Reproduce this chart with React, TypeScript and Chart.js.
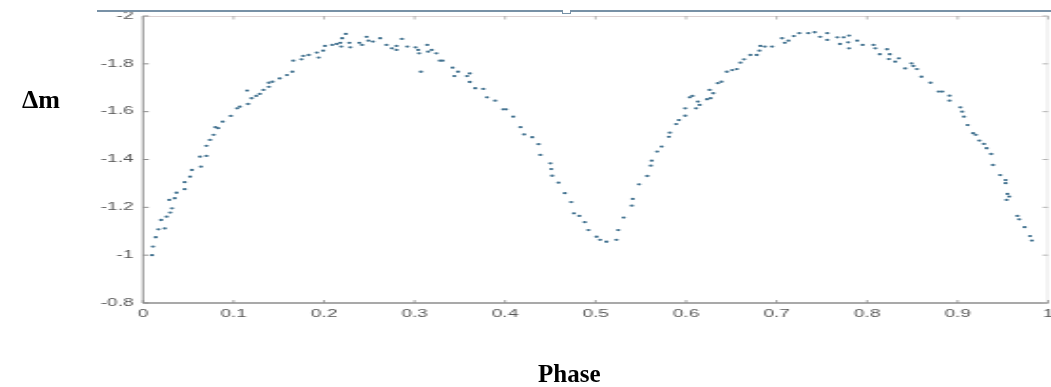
import React, { useEffect, useRef } from "react";
import { Chart, registerables } from "chart.js";

Chart.register(...registerables);

// Phase-folded light curve: phase vs differential magnitude
const phase: number[] = [
  0.010, 0.011, 0.014, 0.017, 0.024, 0.020, 0.026, 0.030, 0.032, 0.029,
  0.035, 0.037, 0.046, 0.046, 0.052, 0.054, 0.064, 0.063, 0.070, 0.070,
  0.074, 0.078, 0.080, 0.083, 0.088, 0.097, 0.104, 0.107, 0.116, 0.115,
  0.120, 0.125, 0.129, 0.133, 0.139, 0.139, 0.143, 0.151, 0.159, 0.165,
  0.166, 0.175, 0.177, 0.183, 0.194, 0.192, 0.199, 0.201, 0.209, 0.214,
  0.218, 0.219, 0.220, 0.224, 0.229, 0.228, 0.239, 0.242, 0.247, 0.249,
  0.254, 0.262, 0.269, 0.275, 0.280, 0.280, 0.286, 0.292, 0.301, 0.304,
  0.305, 0.307, 0.314, 0.315, 0.319, 0.324, 0.328, 0.331, 0.342, 0.348,
  0.344, 0.358, 0.361, 0.361, 0.367, 0.376, 0.380, 0.389, 0.398, 0.401,
  0.409, 0.417, 0.421, 0.430, 0.437, 0.439, 0.450, 0.451, 0.452, 0.459,
  0.466, 0.473, 0.476, 0.482, 0.488, 0.492, 0.501, 0.505, 0.512, 0.523,
  0.525, 0.531, 0.540, 0.541, 0.548, 0.557, 0.561, 0.562, 0.568, 0.573,
  0.581, 0.582, 0.589, 0.592, 0.599, 0.599, 0.604, 0.607, 0.611, 0.613,
  0.615, 0.623, 0.627, 0.626, 0.630, 0.635, 0.639, 0.645, 0.651, 0.656,
  0.660, 0.664, 0.671, 0.678, 0.681, 0.682, 0.687, 0.695, 0.706, 0.709,
  0.713, 0.719, 0.725, 0.735, 0.742, 0.748, 0.756, 0.756, 0.767, 0.774,
  0.770, 0.780, 0.779, 0.780, 0.789, 0.795, 0.807, 0.809, 0.814, 0.822,
  0.825, 0.824, 0.831, 0.835, 0.842, 0.849, 0.851, 0.855, 0.860, 0.870,
  0.879, 0.883, 0.891, 0.891, 0.903, 0.905, 0.907, 0.911, 0.917, 0.920,
  0.924, 0.929, 0.932, 0.937, 0.939, 0.947, 0.953, 0.953, 0.955, 0.957,
  0.954, 0.966, 0.968, 0.974, 0.980, 0.982,
];

const deltaMag: number[] = [
  -1.000, -1.036, -1.075, -1.108, -1.112, -1.147, -1.161, -1.178, -1.196, -1.231,
  -1.238, -1.261, -1.276, -1.305, -1.328, -1.356, -1.370, -1.412, -1.415, -1.457,
  -1.482, -1.503, -1.535, -1.531, -1.558, -1.582, -1.614, -1.621, -1.632, -1.688,
  -1.656, -1.666, -1.674, -1.691, -1.704, -1.721, -1.725, -1.739, -1.753, -1.767,
  -1.813, -1.819, -1.833, -1.837, -1.826, -1.847, -1.855, -1.875, -1.879, -1.883,
  -1.888, -1.872, -1.907, -1.925, -1.869, -1.888, -1.888, -1.879, -1.913, -1.897,
  -1.893, -1.907, -1.879, -1.865, -1.875, -1.858, -1.904, -1.872, -1.869, -1.858,
  -1.844, -1.767, -1.879, -1.851, -1.858, -1.844, -1.813, -1.813, -1.784, -1.767,
  -1.749, -1.749, -1.760, -1.724, -1.698, -1.695, -1.660, -1.646, -1.610, -1.610,
  -1.579, -1.535, -1.505, -1.493, -1.464, -1.419, -1.384, -1.360, -1.332, -1.303,
  -1.259, -1.222, -1.175, -1.164, -1.138, -1.105, -1.077, -1.064, -1.056, -1.064,
  -1.105, -1.157, -1.207, -1.235, -1.296, -1.331, -1.374, -1.395, -1.433, -1.454,
  -1.495, -1.512, -1.548, -1.565, -1.583, -1.614, -1.660, -1.666, -1.614, -1.642,
  -1.628, -1.652, -1.656, -1.691, -1.677, -1.719, -1.725, -1.767, -1.774, -1.778,
  -1.805, -1.819, -1.837, -1.837, -1.855, -1.875, -1.872, -1.872, -1.907, -1.888,
  -1.897, -1.916, -1.928, -1.928, -1.932, -1.913, -1.928, -1.900, -1.911, -1.911,
  -1.883, -1.918, -1.890, -1.865, -1.897, -1.879, -1.879, -1.865, -1.840, -1.861,
  -1.840, -1.820, -1.809, -1.823, -1.781, -1.802, -1.791, -1.778, -1.746, -1.721,
  -1.684, -1.684, -1.667, -1.646, -1.618, -1.600, -1.579, -1.544, -1.510, -1.503,
  -1.479, -1.465, -1.447, -1.423, -1.377, -1.335, -1.314, -1.301, -1.256, -1.245,
  -1.231, -1.164, -1.150, -1.117, -1.080, -1.061,
];

const xRange: [number, number] = [0, 1];
const yRange: [number, number] = [-2, -0.8];
const xStep = 0.1;
const yStep = 0.2;

const PAGE_W = 1051;
const PAGE_H = 387;
const CANVAS_W = 553; // drawn narrow, then stretched horizontally
const STRETCH = PAGE_W / CANVAS_W;

const fmt = (v: number | string) => String(parseFloat(Number(v).toFixed(1)));

// Box around the axes with inward tick marks on all four sides
const boxAxes = {
  id: "boxAxes",
  afterDraw(chart: any) {
    const { ctx, chartArea, scales } = chart;
    const { left, right, top, bottom } = chartArea;
    const xs = scales.x;
    const ys = scales.y;
    ctx.save();
    ctx.lineCap = "butt";

    // top and right edges (faint)
    ctx.lineWidth = 1;
    ctx.strokeStyle = "#ddd2d2";
    ctx.beginPath();
    ctx.moveTo(left, top + 0.5);
    ctx.lineTo(right, top + 0.5);
    ctx.stroke();
    ctx.strokeStyle = "#e6e6e6";
    ctx.beginPath();
    ctx.moveTo(right - 0.5, top);
    ctx.lineTo(right - 0.5, bottom);
    ctx.stroke();

    // left and bottom axes
    ctx.strokeStyle = "#8d8d8d";
    ctx.lineWidth = 1;
    ctx.beginPath();
    ctx.moveTo(left, top);
    ctx.lineTo(left, bottom);
    ctx.stroke();
    ctx.lineWidth = 1.5;
    ctx.beginPath();
    ctx.moveTo(left, bottom);
    ctx.lineTo(right, bottom);
    ctx.stroke();

    // x ticks
    ctx.lineWidth = 0.8;
    for (const t of xs.ticks) {
      const px = xs.getPixelForValue(t.value);
      ctx.strokeStyle = "#8d8d8d";
      ctx.beginPath();
      ctx.moveTo(px, bottom);
      ctx.lineTo(px, bottom - 3);
      ctx.stroke();
      ctx.strokeStyle = "#a6a6a6";
      ctx.beginPath();
      ctx.moveTo(px, top);
      ctx.lineTo(px, top + 3.5);
      ctx.stroke();
    }
    // y ticks
    ctx.lineWidth = 1;
    for (const t of ys.ticks) {
      const py = ys.getPixelForValue(t.value);
      ctx.strokeStyle = "#8d8d8d";
      ctx.beginPath();
      ctx.moveTo(left, py);
      ctx.lineTo(left + 3, py);
      ctx.stroke();
      ctx.strokeStyle = "#b4b4b4";
      ctx.beginPath();
      ctx.moveTo(right, py);
      ctx.lineTo(right - 3, py);
      ctx.stroke();
    }
    ctx.restore();
  },
};

function LightCurve() {
  const canvasRef = useRef<HTMLCanvasElement | null>(null);

  useEffect(() => {
    const canvas = canvasRef.current;
    if (!canvas) return;
    const points = phase.map((p, i) => ({ x: p, y: deltaMag[i] }));

    const chart = new Chart(canvas, {
      type: "scatter",
      data: {
        datasets: [
          {
            data: points,
            pointRadius: 1.15,
            pointHoverRadius: 1.15,
            pointBorderWidth: 0,
            pointBackgroundColor: "#41718f",
            showLine: false,
          },
        ],
      },
      options: {
        responsive: false,
        devicePixelRatio: 1,
        animation: false,
        events: [],
        layout: { padding: { left: 0, right: 1.5, top: 16, bottom: 0 } },
        plugins: {
          legend: { display: false },
          tooltip: { enabled: false },
          title: { display: false },
        },
        scales: {
          x: {
            type: "linear",
            min: xRange[0],
            max: xRange[1],
            grid: { display: false, drawTicks: false },
            border: { display: false },
            ticks: {
              stepSize: xStep,
              padding: 5,
              color: "#555",
              font: { family: "'Liberation Sans', Arial, sans-serif", size: 10 },
              maxRotation: 0,
              callback: (v: any) => fmt(v),
            },
            afterFit: (s: any) => {
              s.height = PAGE_H - 303;
              s.paddingLeft = 0;
              s.paddingRight = 0;
            },
          },
          y: {
            type: "linear",
            reverse: true,
            min: yRange[0],
            max: yRange[1],
            grid: { display: false, drawTicks: false },
            border: { display: false },
            ticks: {
              stepSize: yStep,
              padding: 5,
              color: "#555",
              font: { family: "'Liberation Sans', Arial, sans-serif", size: 10 },
              callback: (v: any) => fmt(v),
            },
            afterFit: (s: any) => {
              s.width = 143 / STRETCH;
              s.paddingTop = 0;
              s.paddingBottom = 0;
            },
          },
        },
      },
      plugins: [boxAxes],
    });

    return () => chart.destroy();
  }, []);

  return (
    <div
      style={{
        position: "absolute",
        left: 0,
        top: 0,
        width: CANVAS_W,
        height: PAGE_H,
        transform: `scaleX(${STRETCH})`,
        transformOrigin: "0 0",
      }}
    >
      <canvas
        ref={canvasRef}
        width={CANVAS_W}
        height={PAGE_H}
        style={{ width: CANVAS_W, height: PAGE_H, display: "block" }}
      />
    </div>
  );
}

export default function App() {
  const labelFont = "'Liberation Serif', 'Times New Roman', serif";
  return (
    <div
      style={{
        position: "fixed",
        left: 0,
        top: 0,
        width: PAGE_W,
        height: PAGE_H,
        background: "#fff",
        overflow: "hidden",
      }}
    >
      <LightCurve />
      {/* window frame line above the axes */}
      <div
        style={{
          position: "absolute",
          left: 97,
          top: 10,
          width: PAGE_W - 97,
          height: 1.5,
          background: "#7891a6",
        }}
      />
      <div
        style={{
          position: "absolute",
          left: 562,
          top: 10,
          width: 7,
          height: 3,
          border: "1px solid #7891a6",
          borderTop: "none",
          background: "#fff",
        }}
      />
      <div
        style={{
          position: "absolute",
          left: 22,
          top: 85,
          fontFamily: labelFont,
          fontWeight: "bold",
          fontSize: 26,
          lineHeight: "30px",
          color: "#000",
        }}
      >
        Δm
      </div>
      <div
        style={{
          position: "absolute",
          left: 538,
          top: 360,
          fontFamily: labelFont,
          fontWeight: "bold",
          fontSize: 25,
          lineHeight: "28px",
          color: "#000",
        }}
      >
        Phase
      </div>
    </div>
  );
}
